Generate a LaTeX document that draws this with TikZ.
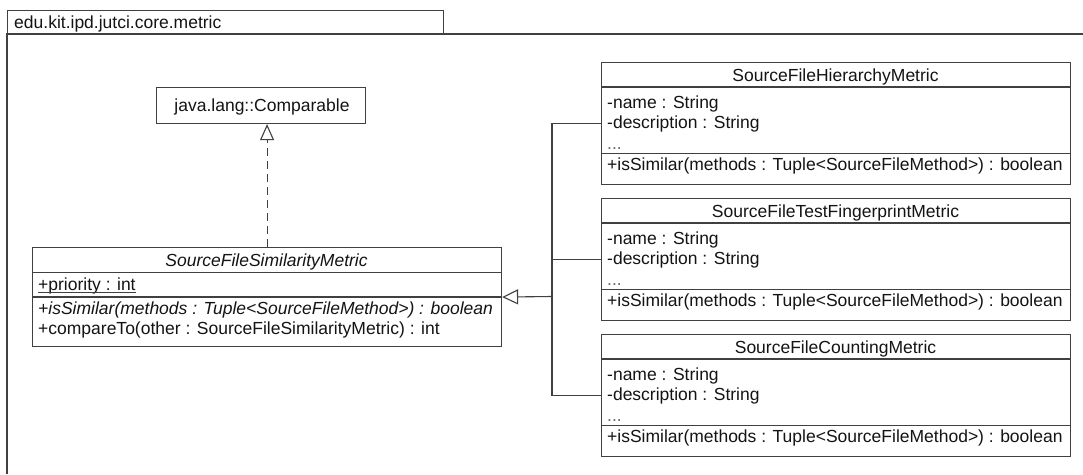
\documentclass[tikz,border=0pt]{standalone}
\usepackage{fontspec}
\setmainfont{Liberation Sans}
\usetikzlibrary{arrows.meta}
\begin{document}
\begin{tikzpicture}[x=1pt,y=-1pt,
  umlbox/.style={draw=black!75, line width=1.1pt, inner sep=0pt, anchor=north west},
  txt/.style={inner sep=0pt, anchor=base west, text=black!92, font=\fontsize{17.5}{20}\selectfont},
  ttl/.style={inner sep=0pt, anchor=base, text=black!92, font=\fontsize{17.5}{20}\selectfont},
  ital/.style={font=\fontsize{17.5}{20}\selectfont\itshape},
  link/.style={draw=black!75, line width=1.1pt},
  inherit/.style={link, -{Triangle[open, length=16pt, width=15pt]}},
  realize/.style={link, dash pattern=on 8pt off 5pt, -{Triangle[open, length=16pt, width=14pt]}}
]
\useasboundingbox (0,0) rectangle (1083,474);
\fill[white] (0,0) rectangle (1083,474);

% package frame with its name tab
\node[umlbox, minimum width=436pt, minimum height=24pt] (tab) at (7,10) {};
\node[txt] (pkg) at (14,28) {edu.kit.ipd.jutci.core.metric};
\draw[link] (1083,34) -- (7,34) -- (7,474);

% interface
\node[umlbox, minimum width=209pt, minimum height=36pt] (comp) at (156,87) {};
\node[ttl] (compname) at (262,111) {java.lang::Comparable};

% abstract base class
\node[umlbox, minimum width=469pt, minimum height=99pt] (sim) at (32,247) {};
\draw[link] ([yshift=-25.5pt]sim.north west) -- ([yshift=-25.5pt]sim.north east);
\draw[link] ([yshift=-50pt]sim.north west) -- ([yshift=-50pt]sim.north east);
\node[ttl, ital] (simname) at (266.5,266) {SourceFileSimilarityMetric};
\node[txt] (prio) at (38,290) {+priority : int};
\draw[link, line width=0.9pt] ([yshift=-2pt]prio.base west) -- ([yshift=-2pt]prio.base east);
\node[txt, ital] (simmeth) at (38,314) {+isSimilar(methods : Tuple<SourceFileMethod>) : boolean};
\node[txt] (cmpto) at (38,334) {+compareTo(other : SourceFileSimilarityMetric) : int};

% concrete metrics
\foreach \n/\t/\y in {hier/SourceFileHierarchyMetric/62,
                      test/SourceFileTestFingerprintMetric/198,
                      count/SourceFileCountingMetric/334} {
  \node[umlbox, minimum width=469pt, minimum height=122pt] (\n) at (601,\y) {};
  \draw[link] ([yshift=-25pt]\n.north west) -- ([yshift=-25pt]\n.north east);
  \draw[link] ([yshift=-91.5pt]\n.north west) -- ([yshift=-91.5pt]\n.north east);
  \node[ttl] (\n-title) at ({835.5},{\y+19}) {\t};
  \node[txt] (\n-a1) at (607,{\y+46}) {-name : String};
  \node[txt] (\n-a2) at (607,{\y+66}) {-description : String};
  \node[txt, text=black!60] (\n-a3) at (607,{\y+87}) {...};
  \node[txt] (\n-m1) at (607,{\y+108}) {+isSimilar(methods : Tuple<SourceFileMethod>) : boolean};
}

% realization of Comparable
\draw[realize] (sim.north) -- (sim.north |- comp.south);

% generalization tree
\coordinate (joint) at (552,296.5);
\draw[inherit] (joint) -- (sim.east);
\draw[link] (hier.west) -| (joint);
\draw[link] (test.west) -- (test.west -| joint);
\draw[link] (count.west) -| (joint);
\end{tikzpicture}
\end{document}
